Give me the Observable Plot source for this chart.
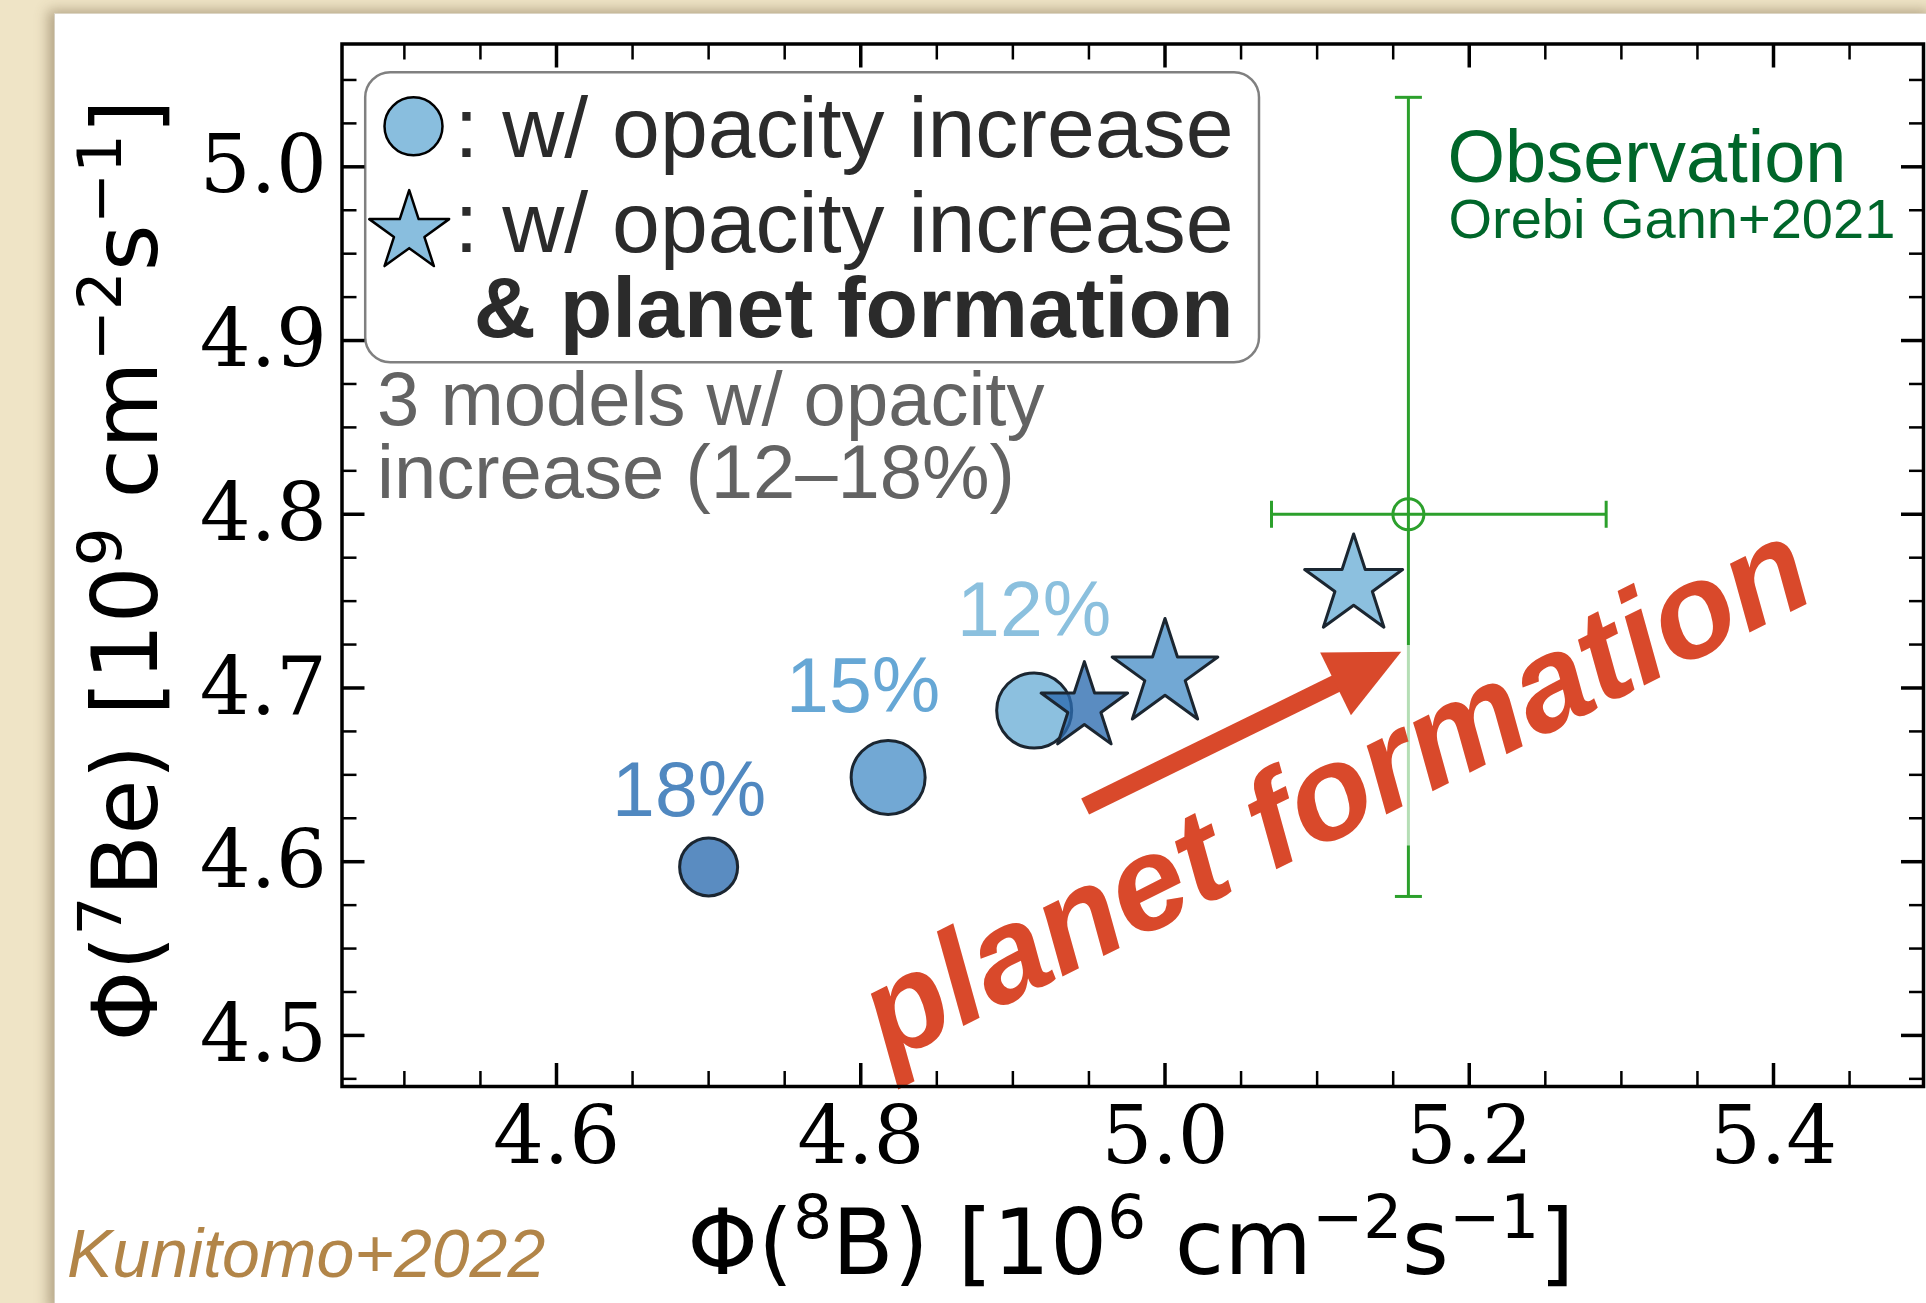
<!DOCTYPE html>
<html><head><meta charset="utf-8">
<script src="https://cdn.jsdelivr.net/npm/d3@7"></script>
<script src="https://cdn.jsdelivr.net/npm/@observablehq/plot@0.6"></script>
<style>
html,body{margin:0;padding:0;width:1926px;height:1303px;overflow:hidden;background:#efe4c6;}
#card{position:absolute;left:54px;top:13px;width:1880px;height:1300px;background:#fff;box-shadow:-6px -3px 12px rgba(110,90,60,0.45);border-left:1px solid #d6cfc0;border-top:1px solid #dcd5c5;}
#chart{position:absolute;left:0;top:0;}
</style></head><body>
<div id="card"></div><div id="chart"></div>
<script>
// ---------------- data ----------------
const opacityLevels = ["18%", "15%", "12%"];
const b8Opacity  = [4.700, 4.818, 4.914];     // circles: w/ opacity increase
const be7Opacity = [4.597, 4.6485, 4.687];
const b8Planet   = [4.947, 5.000, 5.124];     // stars: w/ opacity increase & planet formation
const be7Planet  = [4.689, 4.708, 4.759];
const observation = [{b8: 5.16, b8Lo: 5.07, b8Hi: 5.29, be7: 4.80, be7Lo: 4.58, be7Hi: 5.04}];
const xMajorTicks = [4.6, 4.8, 5.0, 5.2, 5.4];
const xMinorTicks = [4.50, 4.55, 4.65, 4.70, 4.75, 4.85, 4.90, 4.95, 5.05, 5.10, 5.15, 5.25, 5.30, 5.35, 5.45];
const yMajorTicks = [4.5, 4.6, 4.7, 4.8, 4.9, 5.0];
const yMinorTicks = [4.475, 4.525, 4.55, 4.575, 4.625, 4.65, 4.675, 4.725, 4.75, 4.775, 4.825, 4.85, 4.875, 4.925, 4.95, 4.975, 5.025, 5.05];
const xDomain = [4.459, 5.4986];
const yDomain = [4.4706, 5.0707];
const legendLines = [": w/ opacity increase\n: w/ opacity increase", "& planet formation"];
const noteLines = ["3 models w/ opacity\nincrease (12–18%)"];
const obsLines = ["Observation", "Orebi Gann+2021"];
const arrowData = [{b8From: 4.9475, be7From: 4.6318, b8To: 5.1553, be7To: 4.7209}];
const annotation = [{text: "planet formation", b8: 5.112, be7: 4.640}];
const fadedSegment = [{b8: 5.16, be7Lo: 4.609, be7Hi: 4.7245}];
const xLabel = "Φ(⁸B) [10⁶ cm⁻²s⁻¹]";
const yLabel = "Φ(⁷Be) [10⁹ cm⁻²s⁻¹]";
const credit = "Kunitomo+2022";

// ---------------- styles ----------------
const W = 1926, H = 1303, mL = 341.5, mR = 3, mT = 43.5, mB = 217;
const sans = "Liberation Sans, Arial, Helvetica, sans-serif";
const serif = "DejaVu Serif, serif";
const math = "DejaVu Sans, sans-serif";
const green = "#2ca02c", red = "#d9492b", edge = "#1b2631";
const fills = {"18%": "#2b6cb0", "15%": "#4a90c8", "12%": "#6baed6"};
const labelFills = {"18%": "#5088c0", "15%": "#66a7d5", "12%": "#8bc0de"};
const circleR = {"18%": 29, "15%": 37, "12%": 37.5};
const starR = {"18%": 27.2, "15%": 33.2, "12%": 30.8};
const labelOffset = {"18%": [-19.5, -51], "15%": [-25, -65], "12%": [0, -75]};

const models = opacityLevels.map((level, i) => ({level, b8: b8Opacity[i], be7: be7Opacity[i], b8p: b8Planet[i], be7p: be7Planet[i]}));

const capV = {draw(ctx, size) { const h = Math.sqrt(size / Math.PI); ctx.moveTo(0, -h); ctx.lineTo(0, h); }};
const capH = {draw(ctx, size) { const h = Math.sqrt(size / Math.PI); ctx.moveTo(-h, 0); ctx.lineTo(h, 0); }};
const arrowHead = {draw(ctx, size) { const s = Math.sqrt(size / Math.PI); ctx.moveTo(0, 0); ctx.lineTo(s, 2.09 * s); ctx.lineTo(-s, 2.09 * s); ctx.closePath(); }};

const kx = (W - mL - mR) / (xDomain[1] - xDomain[0]);
const ky = (H - mT - mB) / (yDomain[1] - yDomain[0]);
const a0 = arrowData[0];
const headAngle = Math.atan2((a0.b8To - a0.b8From) * kx, (a0.be7To - a0.be7From) * ky) * 180 / Math.PI;

const blank = () => "";
const axes = [
  ...["bottom", "top"].flatMap(anchor => [
    Plot.axisX(xMajorTicks, {anchor, tickSize: -23, strokeWidth: 3.5, stroke: "black", tickFormat: blank, label: null}),
    Plot.axisX(xMinorTicks, {anchor, tickSize: -15, strokeWidth: 2.5, stroke: "black", tickFormat: blank, label: null})
  ]),
  ...["left", "right"].flatMap(anchor => [
    Plot.axisY(yMajorTicks, {anchor, tickSize: -23, strokeWidth: 3.5, stroke: "black", tickFormat: blank, label: null}),
    Plot.axisY(yMinorTicks, {anchor, tickSize: -15, strokeWidth: 2.5, stroke: "black", tickFormat: blank, label: null})
  ]),
  Plot.axisX(xMajorTicks, {anchor: "bottom", tickSize: 0, tickPadding: 20, tickFormat: d3.format(".1f"), fontSize: 80, fontFamily: serif, fill: "black", label: null}),
  Plot.axisY(yMajorTicks, {anchor: "left", tickSize: 0, tickPadding: 15, tickFormat: d3.format(".1f"), fontSize: 80, fontFamily: serif, fill: "black", label: null})
];

const plot = Plot.plot({
  width: W, height: H,
  marginLeft: mL, marginRight: mR, marginTop: mT, marginBottom: mB,
  style: {background: "transparent", overflow: "visible"},
  x: {domain: xDomain, label: null, axis: null},
  y: {domain: yDomain, label: null, axis: null},
  marks: [
    // legend box
    Plot.frame({insetLeft: 23.2, insetTop: 28.2, insetRight: 664.5, insetBottom: 724.3, rx: 25, ry: 25, fill: "white", stroke: "#808080", strokeWidth: 2.5}),
    // observation error bars
    Plot.ruleY(observation, {y: "be7", x1: "b8Lo", x2: "b8Hi", stroke: green, strokeWidth: 3}),
    Plot.ruleX(observation, {x: "b8", y1: "be7Lo", y2: "be7Hi", stroke: green, strokeWidth: 3}),
    Plot.dot(observation, {x: "b8Lo", y: "be7", symbol: capV, r: 13.5, stroke: green, strokeWidth: 3, fill: "none"}),
    Plot.dot(observation, {x: "b8Hi", y: "be7", symbol: capV, r: 13.5, stroke: green, strokeWidth: 3, fill: "none"}),
    Plot.dot(observation, {x: "b8", y: "be7Lo", symbol: capH, r: 13.5, stroke: green, strokeWidth: 3, fill: "none"}),
    Plot.dot(observation, {x: "b8", y: "be7Hi", symbol: capH, r: 13.5, stroke: green, strokeWidth: 3, fill: "none"}),
    Plot.dot(observation, {x: "b8", y: "be7", r: 15.5, stroke: green, strokeWidth: 3, fill: "none"}),
    Plot.ruleX(fadedSegment, {x: "b8", y1: "be7Lo", y2: "be7Hi", stroke: "white", strokeOpacity: 0.65, strokeWidth: 5}),
    // models
    ...models.map(m => Plot.dot([m], {x: "b8", y: "be7", r: circleR[m.level], fill: fills[m.level], fillOpacity: 0.78, stroke: edge, strokeWidth: 3})),
    ...models.map(m => Plot.dot([m], {x: "b8p", y: "be7p", symbol: "star", r: starR[m.level], fill: fills[m.level], fillOpacity: 0.78, stroke: edge, strokeWidth: 3, strokeLinejoin: "round"})),
    ...models.map(m => Plot.text([m], {x: "b8", y: "be7", text: "level", dx: labelOffset[m.level][0], dy: labelOffset[m.level][1], lineAnchor: "bottom", textAnchor: "middle", fill: labelFills[m.level], fontSize: 77, fontFamily: sans})),
    // arrow + annotation
    Plot.arrow(arrowData, {x1: "b8From", y1: "be7From", x2: "b8To", y2: "be7To", stroke: red, strokeWidth: 18, headLength: 0, insetEnd: 58, strokeLinecap: "butt", strokeLinejoin: "miter"}),
    Plot.dot(arrowData, {x: "b8To", y: "be7To", symbol: arrowHead, r: 35, rotate: headAngle, fill: red, stroke: "none"}),
    Plot.text(annotation, {x: "b8", y: "be7", text: "text", rotate: -(90 - headAngle) - 0.5, fontSize: 133, fontWeight: "bold", fontStyle: "italic", fill: red, fontFamily: sans, textAnchor: "middle", lineAnchor: "middle"}),
    // legend contents
    Plot.dot([0], {frameAnchor: "top-left", dx: 71.5, dy: 82.3, r: 29, fill: "#89bede", stroke: "black", strokeWidth: 2.5}),
    Plot.dot([0], {frameAnchor: "top-left", dx: 67.2, dy: 188.1, r: 25.1, symbol: "star", fill: "#89bede", stroke: "black", strokeWidth: 2.5, strokeLinejoin: "round"}),
    Plot.text([legendLines[0]], {text: d => d, frameAnchor: "top-left", dx: 891.5, dy: 208.2, textAnchor: "end", lineAnchor: "bottom", lineHeight: 1.105, fontSize: 86, fill: "#2b2b2b", fontFamily: sans}),
    Plot.text([legendLines[1]], {text: d => d, frameAnchor: "top-left", dx: 891.5, dy: 292.5, textAnchor: "end", lineAnchor: "bottom", fontSize: 86, fontWeight: "bold", fill: "#2b2b2b", fontFamily: sans}),
    Plot.text(noteLines, {text: d => d, frameAnchor: "top-left", dx: 35, dy: 453.5, textAnchor: "start", lineAnchor: "bottom", lineHeight: 0.96, fontSize: 76, fill: "#636363", fontFamily: sans}),
    Plot.text([obsLines[0]], {text: d => d, frameAnchor: "top-left", dx: 1105.5, dy: 138.2, textAnchor: "start", lineAnchor: "bottom", fontSize: 74, fill: "#00662a", fontFamily: sans}),
    Plot.text([obsLines[1]], {text: d => d, frameAnchor: "top-left", dx: 1106.5, dy: 194.2, textAnchor: "start", lineAnchor: "bottom", fontSize: 56, fill: "#00662a", fontFamily: sans}),
    // axes
    Plot.frame({stroke: "black", strokeWidth: 3.5}),
    ...axes,
    // axis labels & credit
    Plot.text([xLabel], {text: d => d, frameAnchor: "bottom", dx: -2, dy: 187, textAnchor: "middle", lineAnchor: "bottom", fontSize: 90, fill: "black", fontFamily: math}),
    Plot.text([yLabel], {text: d => d, frameAnchor: "left", rotate: -90, dx: -184.8, dy: 5, textAnchor: "middle", lineAnchor: "bottom", fontSize: 90, fill: "black", fontFamily: math}),
    Plot.text([credit], {text: d => d, frameAnchor: "bottom-left", dx: -275, dy: 190.7, textAnchor: "start", lineAnchor: "bottom", fontSize: 68, fontStyle: "italic", fill: "#b28548", fontFamily: sans})
  ]
});
document.getElementById("chart").appendChild(plot);

// true superscripts for the axis labels
function superscriptify(label, parts, size) {
  plot.querySelectorAll("text").forEach(t => {
    if (t.textContent !== label) return;
    while (t.firstChild) t.removeChild(t.firstChild);
    let raised = false;
    const rise = 0.4 * size;
    for (const [s, sup] of parts) {
      const ts = document.createElementNS("http://www.w3.org/2000/svg", "tspan");
      ts.textContent = s;
      if (sup && !raised) { ts.setAttribute("dy", -rise); raised = true; }
      else if (!sup && raised) { ts.setAttribute("dy", rise); raised = false; }
      if (sup) ts.setAttribute("font-size", 0.68 * size);
      t.appendChild(ts);
    }
  });
}
superscriptify(xLabel, [["Φ(", 0], ["8", 1], ["B) [10", 0], ["6", 1], [" cm", 0], ["−2", 1], ["s", 0], ["−1", 1], ["]", 0]], 90);
superscriptify(yLabel, [["Φ(", 0], ["7", 1], ["Be) [10", 0], ["9", 1], [" cm", 0], ["−2", 1], ["s", 0], ["−1", 1], ["]", 0]], 90);
</script>
</body></html>
